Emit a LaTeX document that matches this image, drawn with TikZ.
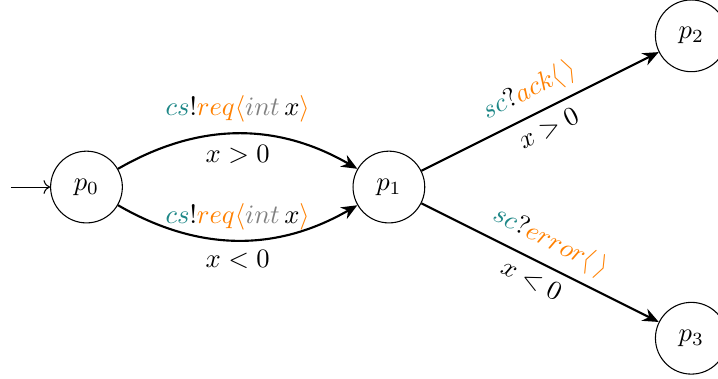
\documentclass[tikz,border=0pt]{standalone}
\usepackage{amsmath}
\usetikzlibrary{arrows.meta}
\definecolor{chan}{RGB}{30,135,135}
\definecolor{msg}{RGB}{255,128,0}
\definecolor{typ}{RGB}{128,128,128}
\begin{document}
\begin{tikzpicture}[
  state/.style={circle,draw,minimum size=27pt,inner sep=0pt},
  trans/.style={thick,-{Stealth[length=6pt,width=5pt]}},
  initarr/.style={->}]
\useasboundingbox (-1.144,-2.526) rectangle (8.353,2.474);
\node[state] (p0) at (0,0) {$p_0$};
\node[state] (p1) at (4,0) {$p_1$};
\node[state] (p2) at (8,2) {$p_2$};
\node[state] (p3) at (8,-2) {$p_3$};
\coordinate (init) at (-1.0,0);
\draw[initarr] (init) -- (p0);
\draw[trans] (p0) to[bend left=30]
  node[above,inner sep=4pt] {${\color{chan}cs}!{\color{msg}req\langle}{\color{typ}int}\,x{\color{msg}\rangle}$}
  node[below,inner sep=4pt] {$x>0$} (p1);
\draw[trans] (p0) to[bend right=30]
  node[above] {${\color{chan}cs}!{\color{msg}req\langle}{\color{typ}int}\,x{\color{msg}\rangle}$}
  node[below] {$x<0$} (p1);
\draw[trans] (p1) --
  node[above,sloped] {${\color{chan}sc}?{\color{msg}ack\langle\,\rangle}$}
  node[below,sloped] {$x>0$} (p2);
\draw[trans] (p1) --
  node[above,sloped] {${\color{chan}sc}?{\color{msg}error\langle\,\rangle}$}
  node[below,sloped] {$x<0$} (p3);
\end{tikzpicture}
\end{document}
